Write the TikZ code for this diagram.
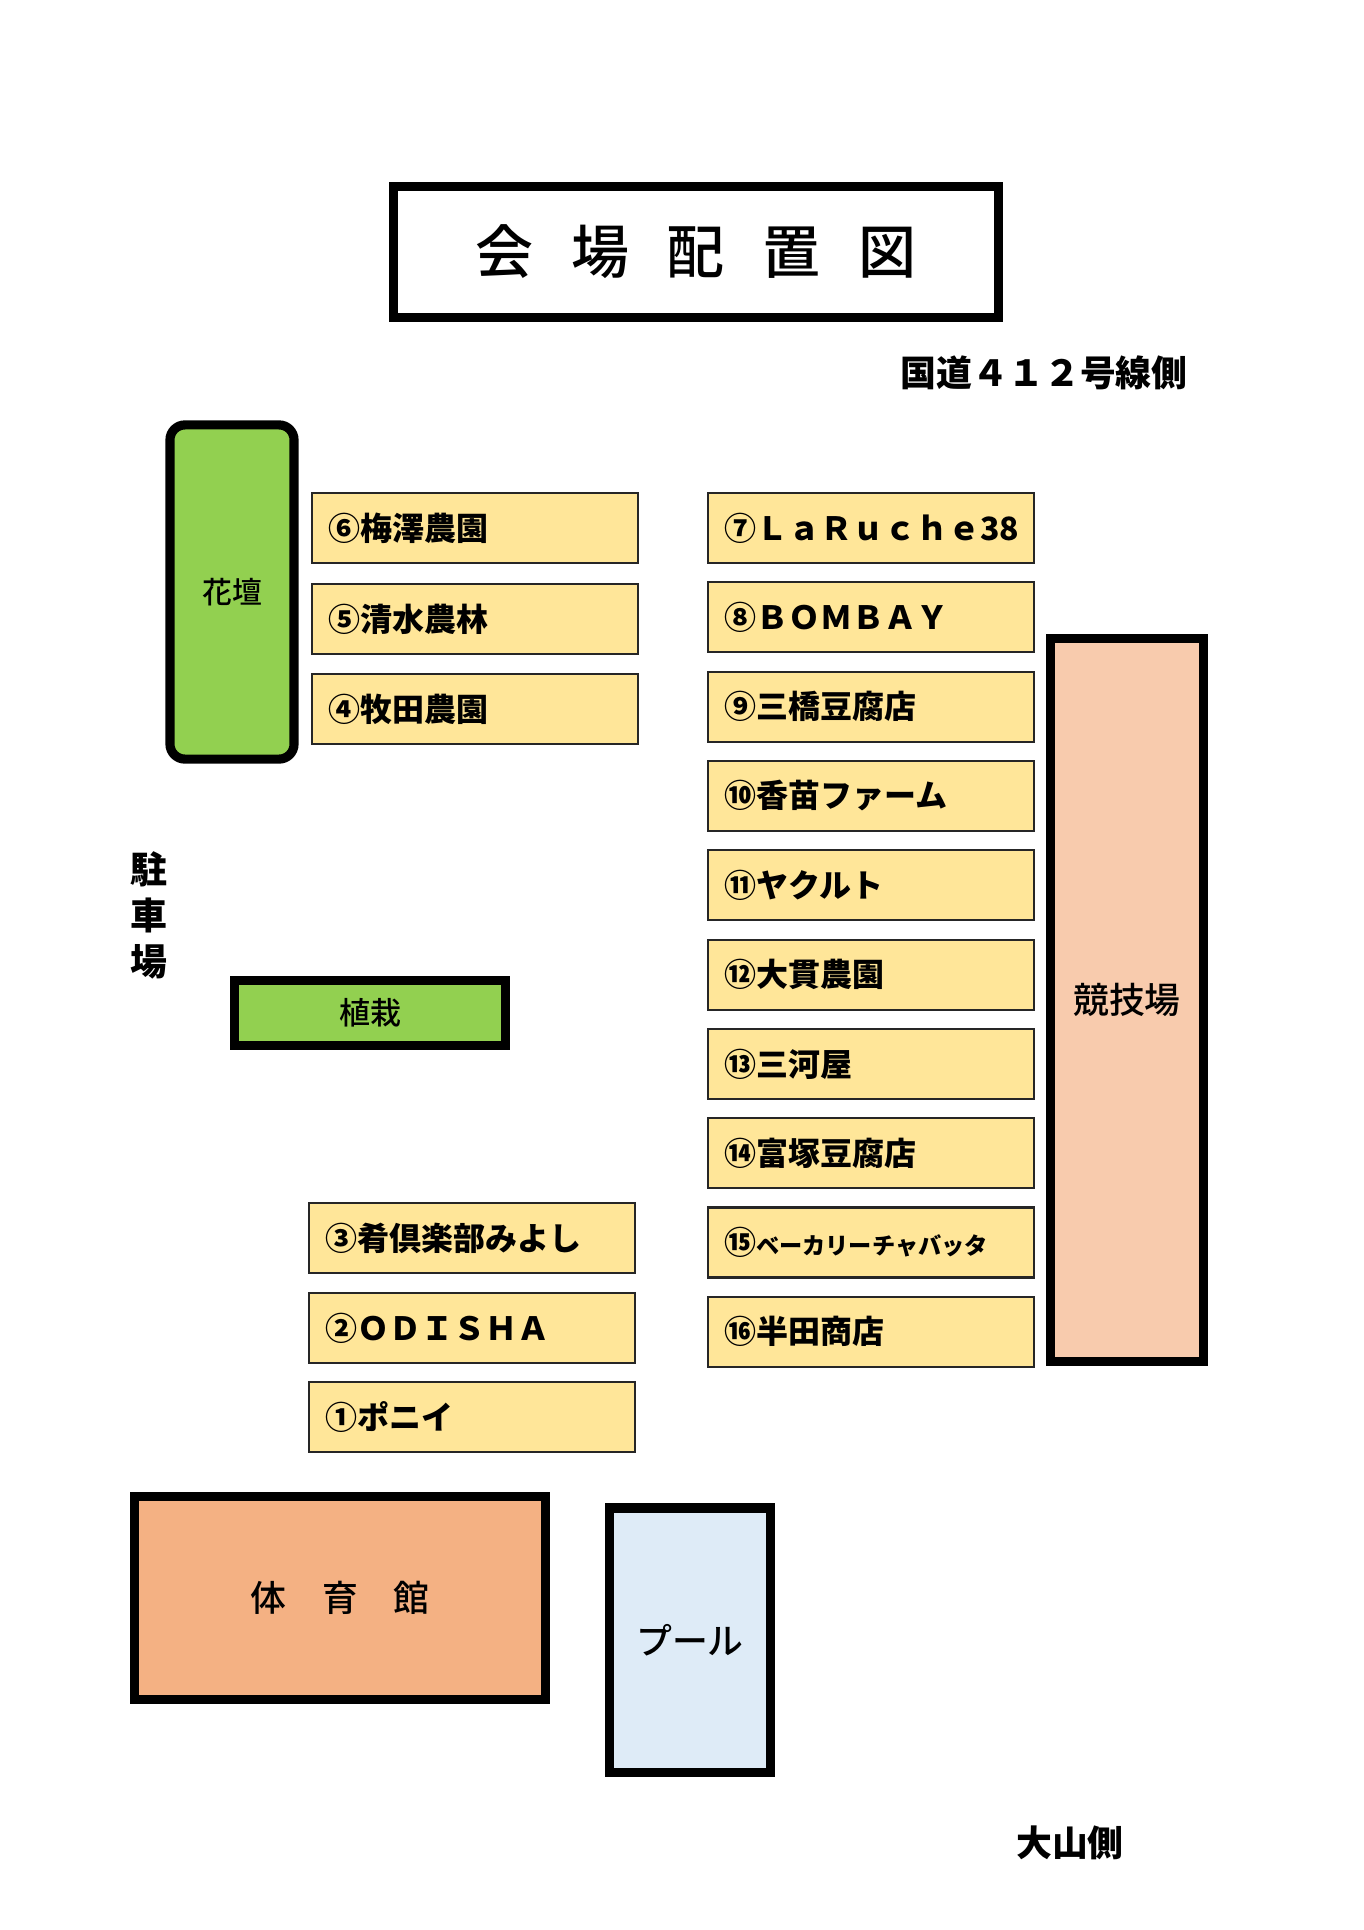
\documentclass[tikz,border=0pt]{standalone}
\usepackage{fontspec}
\setmainfont{Noto Sans CJK JP}
\newfontfamily\mittel{Noto Sans CJK JP Medium}

\definecolor{standgelb}{HTML}{FFE699}
\definecolor{beetgruen}{HTML}{92D050}
\definecolor{platzrosa}{HTML}{F8CBAD}
\definecolor{hallenorange}{HTML}{F4B183}
\definecolor{beckenblau}{HTML}{DEEBF7}

\newcommand\klein{\fontsize{6.6}{8}\selectfont}

\tikzset{
    stand/.style={draw=black!85, line width=0.6pt, fill=standgelb,
        anchor=north west, minimum height=0.7cm, text width=2.94cm,
        inner xsep=0.16cm, align=left, font=\bfseries\fontsize{9.1}{11}\selectfont},
    bau/.style={draw, line width=2.6pt, inner sep=0pt},
    schild/.style={font=\bfseries\fontsize{10.2}{12}\selectfont}
}

\begin{document}
\begin{tikzpicture}[x=0.01cm, y=-0.01cm]
        \useasboundingbox (0,0) rectangle (1364,1930);

        % Titel
        \node[bau, minimum width=6.04cm, minimum height=1.31cm,
            font=\mittel\fontsize{16.5}{18}\selectfont] (titel) at (696,252)
            {会\hspace{.65em}場\hspace{.65em}配\hspace{.65em}置\hspace{.65em}図};

        % Himmelsrichtungen
        \node[schild, anchor=west, inner sep=0pt] (kokudo) at (900,373) {国道４１２号線側};
        \node[schild, inner sep=0pt] (oyama) at (1070,1843) {大山側};
        \node[schild, align=center, inner sep=0pt,
            font=\bfseries\fontsize{10.5}{13.1}\selectfont] (chushajo) at (149,915) {駐\\車\\場};

        % Beete
        \node[bau, fill=beetgruen, rounded corners=0.15cm, minimum width=1.24cm,
            minimum height=3.34cm, font=\mittel\fontsize{8.5}{10}\selectfont] (kadan) at (232,592) {花壇};
        \node[bau, fill=beetgruen, minimum width=2.70cm, minimum height=0.65cm,
            font=\mittel\fontsize{8.8}{10}\selectfont] (shokusai) at (370,1013) {植栽};

        % Stände links
        \node[stand] (stand6) at (311,492) {⑥梅澤農園};
        \node[stand] (stand5) at (311,583) {⑤清水農林};
        \node[stand] (stand4) at (311,673) {④牧田農園};

        \node[stand] (stand3) at (308,1202) {③肴倶楽部みよし};
        \node[stand] (stand2) at (308,1292) {②ＯＤＩＳＨＡ};
        \node[stand] (stand1) at (308,1381) {①ポニイ};

        % Stände rechts
        \foreach \label [count=\i from 7] in {⑦ＬａＲｕｃｈｅ38, ⑧ＢＯＭＢＡＹ, ⑨三橋豆腐店,
            ⑩香苗ファーム, ⑪ヤクルト, ⑫大貫農園, ⑬三河屋, ⑭富塚豆腐店,
            {⑮{\klein ベーカリーチャバッタ}}, ⑯半田商店} {
                \node[stand] (stand\i) at (707,{492+(\i-7)*89.3}) {\label};
            }

        % Gebäude
        \node[bau, fill=platzrosa, minimum width=1.53cm, minimum height=7.23cm,
            font=\mittel\fontsize{10.2}{12}\selectfont] (kyogijo) at (1127,1000) {競技場};
        \node[bau, fill=hallenorange, minimum width=4.10cm, minimum height=2.03cm,
            font=\mittel\fontsize{10.2}{12}\selectfont] (taiikukan) at (340,1598) {体　育　館};
        \node[bau, fill=beckenblau, minimum width=1.61cm, minimum height=2.64cm,
            font=\mittel\fontsize{10.2}{12}\selectfont] (puru) at (690,1640) {プール};
    \end{tikzpicture}
\end{document}
